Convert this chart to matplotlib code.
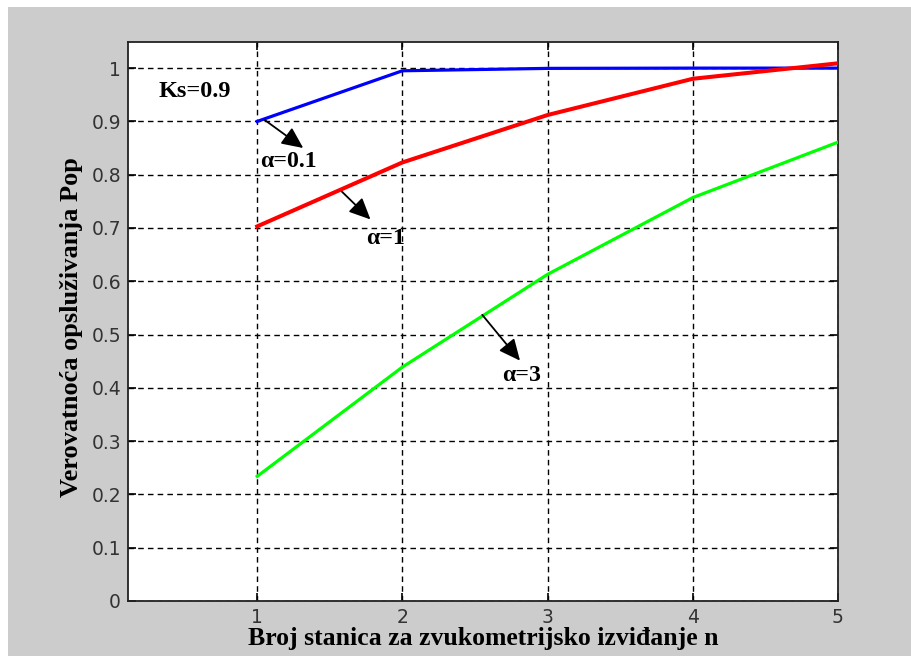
import matplotlib
matplotlib.use("Agg")
import matplotlib.pyplot as plt
from matplotlib.patches import Rectangle

# stations n and service probability Pop for each alpha (Ks = 0.9)
n = [1, 2, 3, 4, 5]
pop_a01 = [0.900, 0.995, 0.9995, 1.000, 1.000]
pop_a1 = [0.703, 0.823, 0.912, 0.980, 1.009]
pop_a3 = [0.234, 0.439, 0.613, 0.757, 0.861]

yticks = [0, 0.1, 0.2, 0.3, 0.4, 0.5, 0.6, 0.7, 0.8, 0.9, 1]
ytick_labels = ["0", "0.1", "0.2", "0.3", "0.4", "0.5", "0.6", "0.7", "0.8", "0.9", "1"]

W, H = 912, 658
fig = plt.figure(figsize=(W / 100, H / 100), dpi=100, facecolor="white")
# grey matlab-style figure background
fig.patches.append(Rectangle((8 / W, 2 / H), 1, 649 / H, transform=fig.transFigure,
                             facecolor="#cccccc", edgecolor="none", zorder=-10))

ax = fig.add_axes([128 / W, 1 - 601 / H, (838 - 128) / W, (601 - 42) / H])
ax.set_facecolor("white")

ax.plot(n, pop_a01, color="#0000ff", lw=2.3, zorder=3)
ax.plot(n, pop_a3, color="#00ff00", lw=2.3, zorder=3)
ax.plot(n, pop_a1, color="#ff0000", lw=2.9, zorder=4)

ax.set_xlim(0.11, 5)
ax.set_ylim(0, 1.049)
ax.set_xticks(n)
ax.set_yticks(yticks)
ax.set_xticklabels([str(v) for v in n])
ax.set_yticklabels(ytick_labels)

ax.grid(True, color="black", linestyle=(0, (4, 3)), linewidth=1.0)
ax.tick_params(direction="in", length=6, width=1.2, top=True, right=True,
               labelsize=13.5, labelcolor="#333333", pad=5)
for lbl in ax.get_xticklabels() + ax.get_yticklabels():
    lbl.set_family("DejaVu Sans")
for s in ax.spines.values():
    s.set_linewidth(1.3)
    s.set_color("#222222")

serif = {"family": "Liberation Serif", "weight": "bold"}
ax.set_xlabel("Broj stanica za zvukometrijsko izviđanje n", fontsize=18.5, labelpad=0, **serif)
ax.set_ylabel("Verovatnoća opsluživanja Pop", fontsize=19, **serif)
ax.yaxis.set_label_coords(-0.064, 0.49)

ax.text(0.32, 0.957, "Ks=0.9", fontsize=17.5, va="center", ha="left", **serif)

arrow = dict(arrowstyle="-|>,head_length=1.3,head_width=0.6", color="black", lw=1.3,
             shrinkA=0, shrinkB=0)
ax.annotate("", xy=(1.317, 0.850), xytext=(1.05, 0.903), arrowprops=arrow)
ax.text(1.02, 0.825, "α=0.1", fontsize=17.2, va="center", ha="left", **serif)
ax.annotate("", xy=(1.78, 0.716), xytext=(1.58, 0.769), arrowprops=arrow)
ax.text(1.75, 0.681, "α=1", fontsize=17.2, va="center", ha="left", **serif)
ax.annotate("", xy=(2.81, 0.451), xytext=(2.55, 0.537), arrowprops=arrow)
ax.text(2.69, 0.424, "α=3", fontsize=17.2, va="center", ha="left", **serif)

fig.savefig("out.png", dpi=100, facecolor="white")
